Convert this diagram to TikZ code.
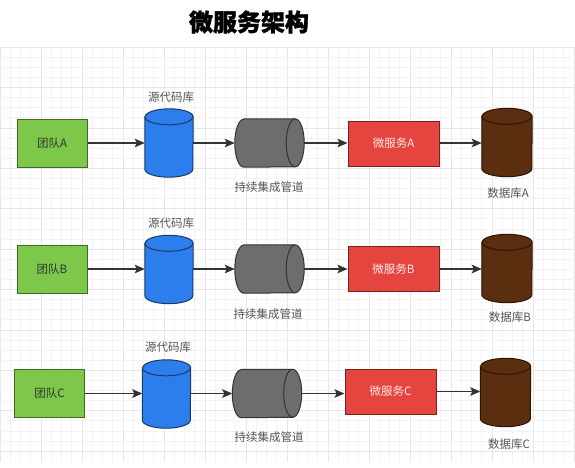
\documentclass[tikz,border=0pt]{standalone}
\usepackage{fontspec}
\setmainfont{Noto Sans CJK SC}
\newfontfamily\titlefont{Noto Sans CJK SC}[BoldFeatures={FakeBold=1.2}]
\usetikzlibrary{arrows.meta,calc}
\definecolor{gfill}{HTML}{7DC84A}
\definecolor{gdraw}{HTML}{3E6B25}
\definecolor{bfill}{HTML}{2C7EEC}
\definecolor{bdraw}{HTML}{1B3A66}
\definecolor{pfill}{HTML}{6D6D6D}
\definecolor{pdraw}{HTML}{333333}
\definecolor{rfill}{HTML}{E6453F}
\definecolor{rdraw}{HTML}{7A2222}
\definecolor{dfill}{HTML}{5A2E0E}
\definecolor{ddraw}{HTML}{2B1505}
\definecolor{lbl}{HTML}{555555}
\definecolor{arr}{HTML}{333333}
\definecolor{gridminor}{HTML}{F3F3F3}
\definecolor{gridmajor}{HTML}{E6E6E6}
\newcommand\dbcyl[5]{%
  \node[inner sep=0pt, minimum width=2*#4pt, minimum height=68pt] (#1) at (#2,#3) {};
  \draw[#5] ($(#1.north west)+(0,-8)$) -- ($(#1.south west)+(0,8)$)
     arc[start angle=180,end angle=360,x radius=#4pt,y radius=8pt]
     -- ($(#1.north east)+(0,-8)$)
     arc[start angle=0,end angle=180,x radius=#4pt,y radius=8pt] -- cycle;
  \draw[#5, fill=none] ($(#1.north west)+(0,-8)$)
     arc[start angle=180,end angle=360,x radius=#4pt,y radius=8pt];
}
\newcommand\pipecyl[3]{%
  \node[inner sep=0pt, minimum width=69pt, minimum height=48pt] (#1) at (#2,#3) {};
  \draw[pipestyle] ($(#1.north west)+(9,0)$) -- ($(#1.north east)+(-9,0)$)
     arc[start angle=90,end angle=-90,x radius=9pt,y radius=24pt]
     -- ($(#1.south west)+(9,0)$)
     arc[start angle=270,end angle=90,x radius=9pt,y radius=24pt] -- cycle;
  \draw[pipestyle, fill=none] ($(#1.north east)+(-9,0)$)
     arc[start angle=90,end angle=270,x radius=9pt,y radius=24pt];
}
\tikzset{
  team/.style={draw=gdraw, fill=gfill, line width=1pt, minimum width=70pt, minimum height=48pt,
    inner sep=0pt, text=black!80, font=\fontsize{11.5}{12}\selectfont},
  svc/.style={draw=rdraw, fill=rfill, line width=1pt, minimum width=91pt, minimum height=45pt,
    inner sep=0pt, text=white!92!red, font=\fontsize{11.5}{12}\selectfont},
  srcstyle/.style={draw=bdraw, fill=bfill, line width=1pt},
  dbstyle/.style={draw=ddraw, fill=dfill, line width=1pt},
  pipestyle/.style={draw=pdraw, fill=pfill, line width=1pt},
  lab/.style={text=lbl, inner sep=0pt, font=\fontsize{11.5}{12}\selectfont},
  conn/.style={draw=arr, line width=1.2pt, -{Stealth[length=10pt,width=8.5pt,inset=2pt]}}
}
\begin{document}
\begin{tikzpicture}[x=1pt,y=1pt]
\useasboundingbox (0,0) rectangle (575,-467);
\fill[white] (0,0) rectangle (575,-467);
% grid
\foreach \i in {0,...,56} {
  \pgfmathsetmacro\xx{\i*10.25}
  \pgfmathtruncatemacro\m{mod(\i,4)}
  \ifnum\m=0 \draw[gridmajor, line width=0.6pt] (\xx,-47) -- (\xx,-462);
  \else \draw[gridminor, line width=0.6pt] (\xx,-47) -- (\xx,-462); \fi
}
\foreach \j in {0,...,40} {
  \pgfmathsetmacro\yy{-47-\j*10.1}
  \pgfmathtruncatemacro\m{mod(\j,4)}
  \ifnum\m=0 \draw[gridmajor, line width=0.6pt] (0,\yy) -- (575,\yy);
  \else \draw[gridminor, line width=0.6pt] (0,\yy) -- (575,\yy); \fi
}
% title
\node[inner sep=0pt, font=\titlefont\fontsize{24}{26}\selectfont\bfseries] (title) at (249,-22) {微服务架构};
% row 1
\node[team] (teamA) at (52,-143) {团队A};
\dbcyl{srcA}{169}{-143}{24}{srcstyle}
\pipecyl{pipeA}{269.5}{-143}
\node[svc] (svcA) at (393.5,-143.5) {微服务A};
\dbcyl{dbA}{507}{-142.5}{25}{dbstyle}
\node[lab] (srcAl) at (171,-97) {源代码库};
\node[lab] (pipeAl) at (269,-187) {持续集成管道};
\node[lab] (dbAl) at (508,-193) {数据库A};
\draw[conn] (teamA.east) -- (srcA.west);
\draw[conn] (srcA.east) -- (pipeA.west);
\draw[conn] (pipeA.east) -- (svcA.west |- pipeA.east);
\draw[conn] (svcA.east |- pipeA.east) -- (dbA.west |- pipeA.east);
% row 2
\node[team] (teamB) at (52,-269) {团队B};
\dbcyl{srcB}{169}{-269.5}{24}{srcstyle}
\pipecyl{pipeB}{269.5}{-269}
\node[svc] (svcB) at (393.5,-269) {微服务B};
\dbcyl{dbB}{507}{-268.5}{25}{dbstyle}
\node[lab] (srcBl) at (171,-223) {源代码库};
\node[lab] (pipeBl) at (268,-314) {持续集成管道};
\node[lab] (dbBl) at (510,-317) {数据库B};
\draw[conn] (teamB.east) -- (srcB.west |- teamB.east);
\draw[conn] (srcB.east |- teamB.east) -- (pipeB.west);
\draw[conn] (pipeB.east) -- (svcB.west);
\draw[conn] (svcB.east) -- (dbB.west |- svcB.east);
% row 3
\node[team] (teamC) at (49.5,-393.5) {团队C};
\dbcyl{srcC}{166.5}{-394}{24}{srcstyle}
\pipecyl{pipeC}{267}{-393.5}
\node[svc] (svcC) at (390.5,-391.5) {微服务C};
\dbcyl{dbC}{505.5}{-392.5}{25}{dbstyle}
\node[lab] (srcCl) at (168,-347) {源代码库};
\node[lab] (pipeCl) at (269,-437) {持续集成管道};
\node[lab] (dbCl) at (509,-444) {数据库C};
\draw[conn] (teamC.east) -- (srcC.west |- teamC.east);
\draw[conn] (srcC.east |- teamC.east) -- (pipeC.west);
\draw[conn] (pipeC.east) -- (svcC.west |- pipeC.east);
\draw[conn] (svcC.east) -- (dbC.west |- svcC.east);
\end{tikzpicture}
\end{document}
